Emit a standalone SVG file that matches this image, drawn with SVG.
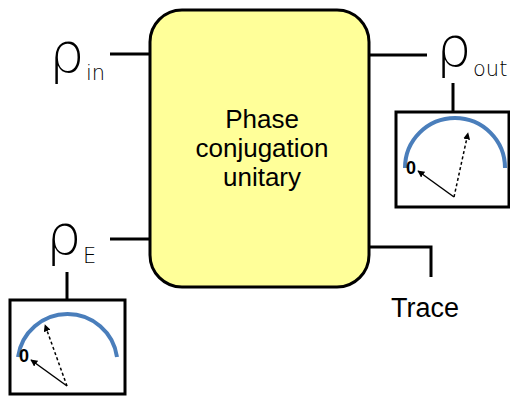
<svg xmlns="http://www.w3.org/2000/svg" width="510" height="398" viewBox="0 0 510 398">
<style>
.ln{stroke:#000;stroke-width:3;fill:none}
.rho{font-family:"DejaVu Sans",sans-serif;font-weight:200;font-size:56px;fill:#000}
.sub{font-family:"DejaVu Sans",sans-serif;font-weight:300;font-size:21px;fill:#000}
.lbl{font-family:"Liberation Sans",Arial,sans-serif;font-size:26px;fill:#000}
.meter{fill:#fff;stroke:#000;stroke-width:3}
.arc{fill:none;stroke:#4a7ebb;stroke-width:4}
.nd{stroke:#000;stroke-width:1.5;fill:none}
.zero{font-family:"Liberation Sans",Arial,sans-serif;font-weight:bold;font-size:18px;fill:#000}
</style>
<defs>
<marker id="ah" viewBox="0 0 10 10" refX="9" refY="5" markerWidth="7" markerHeight="7" orient="auto" markerUnits="userSpaceOnUse">
<path d="M0,0 L10,5 L0,10 z" fill="#000"/>
</marker>
</defs>
<g id="connectors">
<path class="ln" d="M110,54 H150"/>
<path class="ln" d="M110,239 H150"/>
<path class="ln" d="M369,55 H427"/>
<path class="ln" d="M369,247 H431 V277"/>
<path class="ln" d="M453,83 V112"/>
<path class="ln" d="M67,272 V300"/>
</g>
<g id="unitary">
<rect x="150" y="10" width="219" height="277" rx="32" ry="32" fill="#ffff99" stroke="#000" stroke-width="3"/>
<text class="lbl" text-anchor="middle" x="262" y="128">Phase</text>
<text class="lbl" text-anchor="middle" x="262" y="157">conjugation</text>
<text class="lbl" text-anchor="middle" x="262" y="186">unitary</text>
</g>
<g id="rho-in">
<text class="rho" x="49" y="72">ρ</text>
<text class="sub" x="86" y="80">in</text>
</g>
<g id="rho-out">
<text class="rho" x="436" y="66">ρ</text>
<text class="sub" x="473" y="76">out</text>
</g>
<g id="rho-E">
<text class="rho" x="46" y="254">ρ</text>
<text class="sub" x="83" y="263">E</text>
</g>
<g id="trace">
<text class="lbl" x="391" y="317" style="font-size:27px">Trace</text>
</g>
<g id="meter-out">
<rect class="meter" x="396" y="112" width="113" height="95"/>
<path class="arc" d="M405,168 A50,50 0 0 1 505,168"/>
<text class="zero" x="406" y="174">0</text>
<line class="nd" x1="454" y1="197" x2="418" y2="171" marker-end="url(#ah)"/>
<line class="nd" x1="454" y1="197" x2="468" y2="133" stroke-dasharray="3,2.5" marker-end="url(#ah)"/>
</g>
<g id="meter-E">
<rect class="meter" x="10" y="300" width="115" height="94"/>
<path class="arc" d="M18,357 A50,50 0 0 1 117,357"/>
<text class="zero" x="19" y="362">0</text>
<line class="nd" x1="67" y1="386" x2="31" y2="360" marker-end="url(#ah)"/>
<line class="nd" x1="67" y1="386" x2="45" y2="325" stroke-dasharray="3,2.5" marker-end="url(#ah)"/>
</g>
</svg>
